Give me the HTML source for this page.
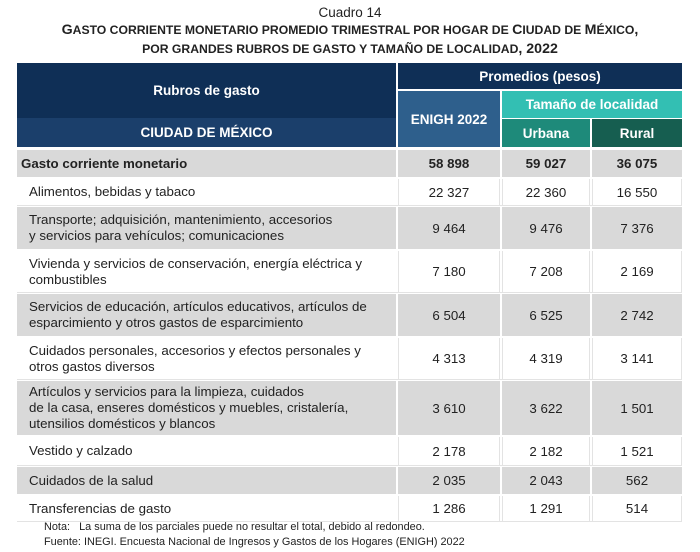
<!DOCTYPE html>
<html><head><meta charset="utf-8"><style>
*{margin:0;padding:0;box-sizing:border-box}
body{width:700px;height:552px;background:#fff;font-family:"Liberation Sans",Arial,sans-serif;position:relative;overflow:hidden;color:#222}
.a{position:absolute}
.c{position:absolute;display:flex;align-items:center;justify-content:center;text-align:center}
.h{color:#fff;font-weight:bold;font-size:13.5px}
.l{position:absolute;display:flex;align-items:center;font-size:13.3px;line-height:16px;padding-left:12px;white-space:nowrap}
.n{position:absolute;display:flex;align-items:center;justify-content:center;font-size:13.3px}
.g{background:#d9d9d9}
.w{background:#fff}
.t{font-weight:bold;font-size:14.2px;letter-spacing:0}
.s{font-size:12.2px}
</style></head><body>
<div class="a" style="left:0;width:700px;top:5px;text-align:center;font-size:13.5px">Cuadro 14</div>
<div class="a t" style="left:0;width:700px;top:22px;text-align:center">G<span class="s">ASTO CORRIENTE MONETARIO PROMEDIO TRIMESTRAL POR HOGAR DE </span>C<span class="s">IUDAD DE </span>M<span class="s">ÉXICO</span>,</div>
<div class="a t" style="left:0;width:700px;top:41px;text-align:center"><span class="s">POR GRANDES RUBROS DE GASTO Y TAMAÑO DE LOCALIDAD</span>, 2022</div>

<div class="c h" style="left:17px;top:63px;width:379px;height:55px;background:#0f2f56">Rubros de gasto</div>
<div class="c h" style="left:17px;top:118px;width:379px;height:29px;background:#1b3f6b">CIUDAD DE MÉXICO</div>
<div class="c h" style="left:398px;top:63px;width:284px;height:26px;background:#0f2f56">Promedios (pesos)</div>
<div class="c h" style="left:398px;top:91px;width:102px;height:56px;background:#2e5f8c">ENIGH 2022</div>
<div class="c h" style="left:502px;top:91px;width:180px;height:27px;background:#33bfb3">Tamaño de localidad</div>
<div class="c h" style="left:502px;top:119px;width:88px;height:28px;background:#1e8a7a">Urbana</div>
<div class="c h" style="left:592px;top:119px;width:90px;height:28px;background:#165e50">Rural</div>

<div id="rows"></div>
<script>
const rows=[
[150,177,1,"Gasto corriente monetario","58 898","59 027","36 075",1],
[179,205,0,"Alimentos, bebidas y tabaco","22 327","22 360","16 550"],
[207,249,1,"Transporte; adquisición, mantenimiento, accesorios<br>y servicios para vehículos; comunicaciones","9 464","9 476","7 376"],
[251,292,0,"Vivienda y servicios de conservación, energía eléctrica y<br>combustibles","7 180","7 208","2 169"],
[294,336,1,"Servicios de educación, artículos educativos, artículos de<br>esparcimiento y otros gastos de esparcimiento","6 504","6 525","2 742"],
[338,379,0,"Cuidados personales, accesorios y efectos personales y<br>otros gastos diversos","4 313","4 319","3 141"],
[381,435,1,"Artículos y servicios para la limpieza, cuidados<br>de la casa, enseres domésticos y muebles, cristalería,<br>utensilios domésticos y blancos","3 610","3 622","1 501"],
[437,465,0,"Vestido y calzado","2 178","2 182","1 521"],
[467,494,1,"Cuidados de la salud","2 035","2 043","562"],
[496,521,0,"Transferencias de gasto","1 286","1 291","514"]];
const cols=[[17,396],[398,500],[502,590],[592,682]];
let h="";
for(const r of rows){
 const [t,b,g,lab,a,u,ru,bold]=r;const hh=b-t;const bg=g?"g":"w";
 const bs=bold?"font-weight:bold;":"";
 const bd=g?"":"border:1px solid #e3e3e3;border-top:none;border-bottom:none;";
 h+=`<div class="l ${bg}" style="left:17px;top:${t}px;width:379px;height:${hh}px;${bs}${bold?"padding-left:4px;":""}">${lab}</div>`;
 [a,u,ru].forEach((v,i)=>{const c=cols[i+1];h+=`<div class="n ${bg}" style="left:${c[0]}px;top:${t}px;width:${c[1]-c[0]}px;height:${hh}px;${bs}${bd}">${v}</div>`;});
 if(!g) h+=`<div class="a" style="left:17px;top:${b}px;width:665px;height:1px;background:#e3e3e3"></div>`;
}
document.getElementById("rows").innerHTML=h;
</script>
<div class="a" style="left:44px;top:521px;font-size:10.9px;color:#222">Nota:&nbsp;&nbsp;&nbsp;La suma de los parciales puede no resultar el total, debido al redondeo.</div>
<div class="a" style="left:44px;top:536px;font-size:10.9px;color:#222">Fuente: INEGI. Encuesta Nacional de Ingresos y Gastos de los Hogares (ENIGH) 2022</div>
</body></html>
